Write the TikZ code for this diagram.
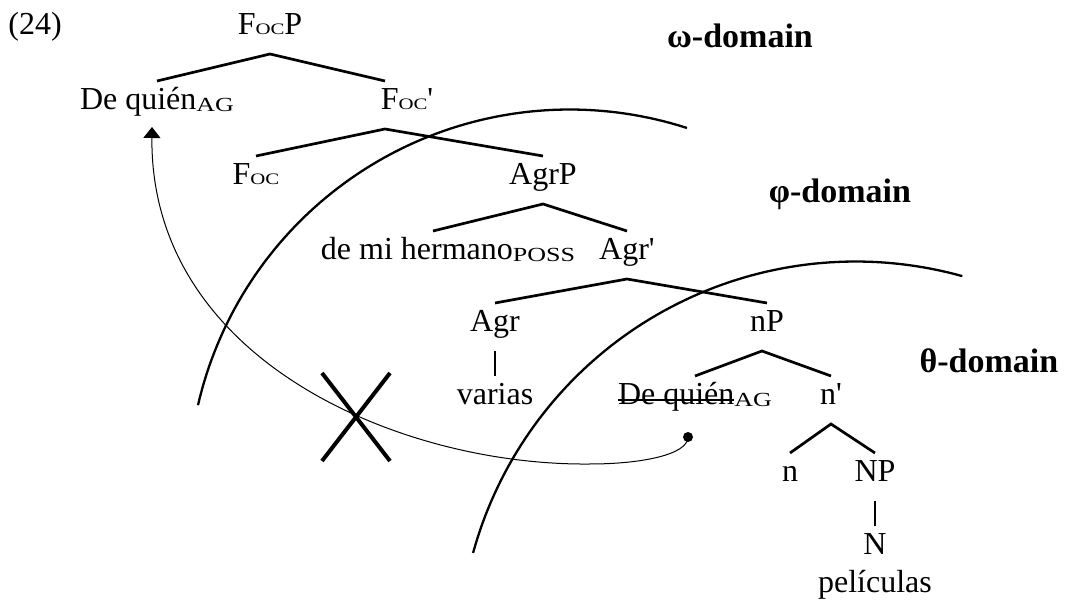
\documentclass[tikz,border=0pt]{standalone}
\usepackage{fontspec}
\setmainfont{Liberation Serif}
\newfontfamily\scfont[FakeStretch=1.3]{Liberation Serif}
\usetikzlibrary{arrows.meta}
\newcommand{\subsc}[1]{\raisebox{-1pt}{\fontsize{10}{12}\scfont #1}}
\newcommand{\smcp}[1]{{\fontsize{8}{10}\scfont #1}}
\newcommand{\struck}[1]{\setbox0\hbox{#1}\rlap{\rule[2pt]{\wd0}{1pt}}\box0}
\begin{document}
\begin{tikzpicture}[x=0.5pt, y=-0.5pt, every node/.style={font=\fontsize{16}{19}\selectfont},
  cat/.style={anchor=base,inner xsep=1pt,inner ysep=0pt,outer sep=0pt,text height=14.5pt,text depth=9.5pt},
  branch/.style={line width=1.35pt},
  arcline/.style={line width=1.15pt},
  domainlabel/.style={anchor=base,font=\fontsize{17}{20}\selectfont\bfseries},
  move/.style={line width=0.5pt,-{Triangle[width=8.5pt,length=5.5pt]}}]
  \useasboundingbox (0,0) rectangle (1073,604);
  \node[anchor=base west,inner sep=0pt] (exnum) at (8,35) {(24)};
  % tree
  \node[cat] (focp) at (270,35) {F\smcp{OC}P};
  \node[cat] (dqhigh) at (157,110) {De quién\subsc{AG}};
  \node[cat] (focbar) at (407,110) {F\smcp{OC}\textquotesingle};
  \node[cat] (foc) at (256,185) {F\smcp{OC}};
  \node[cat] (agrp) at (543,185) {AgrP};
  \node[cat] (poss) at (448,260) {de mi hermano\subsc{POSS}};
  \node[cat] (agrbar) at (627,260) {Agr\textquotesingle};
  \node[cat] (agr) at (495,332) {Agr};
  \node[cat] (np) at (767,332) {nP};
  \node[cat] (varias) at (495,405) {varias};
  \node[cat] (dqlow) at (695,405) {\struck{De quién}\subsc{AG}};
  \node[cat] (nbar) at (831,405) {n\textquotesingle};
  \node[cat] (nhead) at (790,482) {n};
  \node[cat] (bignp) at (875,482) {NP};
  \node[cat] (bign) at (875,555) {N};
  \node[cat] (peliculas) at (875,593) {películas};
  \draw[branch] (dqhigh.north) -- (focp.south) -- ([xshift=-11pt]focbar.north);
  \draw[branch] (foc.north) -- ([xshift=-11pt]focbar.south) -- (agrp.north);
  \draw[branch] ([xshift=-7.5pt]poss.north) -- (agrp.south) -- (agrbar.north);
  \draw[branch] (agr.north) -- (agrbar.south) -- (np.north);
  \draw[branch] (agr.south) -- (agr.south |- varias.north);
  \draw[branch] (dqlow.north) -- ([xshift=-2.5pt]np.south) -- (nbar.north);
  \draw[branch] (nhead.north) -- (nbar.south) -- (bignp.north);
  \draw[branch] (bignp.south) -- (bignp.south |- bign.north);
  % domains
  \draw[arcline] plot[domain=193:287.9,samples=80] ({569.7+381.5*cos(\x)},{491+381.5*sin(\x)});
  \draw[arcline] plot[domain=195.4:285.6,samples=80] ({855.6+396.8*cos(\x)},{658.3+396.8*sin(\x)});
  \node[domainlabel] (omega) at (740,48) {ω-domain};
  \node[domainlabel] (phi) at (840,203) {φ-domain};
  \node[domainlabel] (theta) at (989,373) {θ-domain};
  % blocked movement
  \coordinate (trace) at (688,437);
  \coordinate (landing) at (152,127);
  \fill (trace) circle (2.5pt);
  \draw[move] (trace) .. controls (688,455) and (640,464) .. (590,464)
    .. controls (400,466) and (150,360) .. (landing);
  \draw[line width=2pt] (322,373) -- (390,461) (390,373) -- (322,461);
\end{tikzpicture}
\end{document}
